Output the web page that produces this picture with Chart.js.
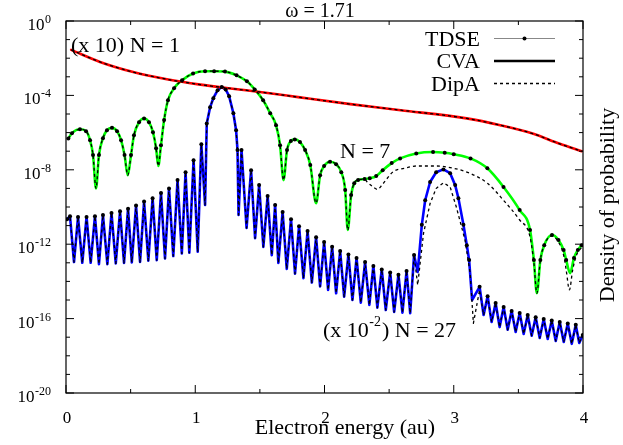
<!DOCTYPE html>
<html>
<head>
<meta charset="utf-8">
<title>Density of probability, omega = 1.71</title>
<script src="https://cdn.jsdelivr.net/npm/chart.js"></script>
<style>
  html, body { margin: 0; background: #fff; }
  canvas { display: block; }
</style>
</head>
<body>
<canvas id="spectrum" width="623" height="445"></canvas>
<script>
// tick labels
var xTickLabels = [0, 1, 2, 3, 4];
var yTickExponents = [0, -4, -8, -12, -16, -20];

// [electron energy (au), density]
// N = 1 (scaled x 10)
var n1Cva = [[0.04,2.8e-2],[0.263,6.3e-3],[0.52,1.8e-3],[0.78,7.4e-4],[1.04,3.8e-4],[1.29,2.3e-4],
  [1.56,1.35e-4],[1.81,7.8e-5],[2.2,3.4e-5],[2.59,1.6e-5],[3.10,5.8e-6],[3.36,2.5e-6],[3.61,8.9e-7],
  [3.82,2.5e-7],[3.99,1.0e-7]];

// N = 7
var n7Cva = [[0.018,4.8e-7],[0.046,9.3e-7],[0.108,1.5e-6],[0.155,1.2e-6],[0.186,3.9e-7],[0.209,6.2e-8],
  [0.232,1.0e-9],[0.255,6.2e-8],[0.286,5.0e-7],[0.317,1.35e-6],[0.356,1.8e-6],[0.395,1.2e-6],[0.426,3.9e-7],
  [0.453,6.2e-8],[0.478,5.1e-9],[0.503,6.2e-8],[0.526,7.2e-7],[0.565,3.6e-6],[0.604,5.7e-6],[0.642,3.6e-6],
  [0.673,1.05e-6],[0.697,1.45e-7],[0.714,1.6e-8],[0.735,2.1e-7],[0.759,4.7e-6],[0.789,5.5e-5],[0.836,2.4e-4],
  [0.898,6.6e-4],[0.983,1.5e-3],[1.076,2.0e-3],[1.146,2.0e-3],[1.23,1.9e-3],[1.32,1.2e-3],[1.40,5.7e-4],
  [1.46,2.1e-4],[1.525,5.5e-5],[1.58,1.1e-5],[1.625,2.5e-6],[1.656,2.1e-7],[1.683,2.8e-9],[1.71,1.15e-7],
  [1.74,3.5e-7],[1.77,4.3e-7],[1.81,3.1e-7],[1.85,1.15e-7],[1.89,1.8e-8],[1.935,1.6e-10],[1.966,5.1e-9],
  [1.997,1.6e-8],[2.043,2.7e-8],[2.09,2.0e-8],[2.13,7.4e-9],[2.16,8.1e-10],[2.18,5.8e-12],[2.206,4.4e-10],
  [2.23,1.9e-9],[2.26,2.8e-9],[2.31,3.2e-9],[2.35,3.5e-9],[2.40,4.6e-9],[2.45,9.5e-9],[2.52,2.3e-8],
  [2.585,4.1e-8],[2.71,7.6e-8],[2.84,9.1e-8],[2.93,8.3e-8],[3.0,6.9e-8],[3.13,4.1e-8],[3.26,1.2e-8],
  [3.385,1.2e-9],[3.51,6.8e-11],[3.59,5.8e-12],[3.62,1.4e-13],[3.643,2.3e-15],[3.67,1.4e-13],[3.70,8.9e-13],
  [3.76,3.1e-12],[3.81,1.7e-12],[3.85,4.9e-13],[3.87,1.4e-13],[3.90,2.8e-14],[3.93,1.8e-13],[3.96,4.9e-13],
  [3.99,8.9e-13]];
// where DipA leaves the N = 7 curve
var n7DipTail = [[2.33,2.2e-9],[2.37,1.3e-9],[2.41,8.9e-10],[2.45,1.7e-9],[2.53,7.8e-9],[2.62,1.2e-8],
  [2.71,1.6e-8],[2.87,1.6e-8],[3.0,1.2e-8],[3.13,6.3e-9],[3.26,1.9e-9],[3.385,2.3e-10],[3.51,2.0e-11],
  [3.59,2.5e-12],[3.62,1.0e-13],[3.643,2.3e-15],[3.67,1.4e-13],[3.70,8.9e-13],[3.76,2.8e-12],[3.81,1.3e-12],
  [3.85,2.6e-13],[3.87,4.1e-14],[3.895,3.5e-15],[3.92,4.1e-14],[3.95,2.6e-13],[3.99,7.0e-13]];

// N = 27 (scaled x 1e-2)
var n27Cva = [[0.008,2.2e-11],[0.031,3.2e-11],[0.062,1.1e-13],[0.093,2.9e-11],[0.126,1.0e-13],[0.159,2.9e-11],
  [0.191,1.0e-13],[0.224,3.2e-11],[0.255,8.5e-14],[0.286,3.7e-11],[0.320,8.5e-14],[0.352,4.7e-11],
  [0.385,9.3e-14],[0.418,6.0e-11],[0.449,9.8e-14],[0.480,8.1e-11],[0.509,1.05e-13],[0.542,1.2e-10],
  [0.573,1.1e-13],[0.604,1.95e-10],[0.637,1.3e-13],[0.670,3.0e-10],[0.702,1.4e-13],[0.735,5.6e-10],
  [0.766,1.7e-13],[0.797,1.0e-9],[0.830,2.3e-13],[0.863,2.8e-9],[0.896,3.2e-13],[0.925,7.4e-9],
  [0.954,3.5e-13],[0.987,3.3e-8],[1.019,3.9e-13],[1.047,2.4e-7],[1.076,1.3e-10],[1.089,3.1e-6],
  [1.115,2.3e-5],[1.140,7.1e-5],[1.173,1.9e-4],[1.205,2.8e-4],[1.235,2.1e-4],[1.262,9.1e-5],[1.295,1.1e-5],
  [1.316,1.35e-6],[1.327,1.15e-7],[1.335,3.7e-11],[1.358,1.15e-7],[1.397,7.4e-12],[1.432,9.5e-9],
  [1.463,2.1e-12],[1.494,1.5e-9],[1.527,7.1e-13],[1.560,3.9e-10],[1.592,2.6e-13],[1.618,1.3e-10],
  [1.643,9.8e-14],[1.676,5.4e-11],[1.708,4.7e-14],[1.741,2.2e-11],[1.772,2.6e-14],[1.803,9.3e-12],
  [1.837,1.5e-14],[1.869,5.1e-12],[1.902,8.7e-15],[1.935,2.4e-12],[1.966,5.4e-15],[1.997,1.3e-12],
  [2.028,3.5e-15],[2.059,7.4e-13],[2.090,2.3e-15],[2.121,4.3e-13],[2.152,1.5e-15],[2.185,2.8e-13],
  [2.216,1.0e-15],[2.248,1.8e-13],[2.281,7.2e-16],[2.314,1.1e-13],[2.347,5.4e-16],[2.378,6.8e-14],
  [2.409,3.9e-16],[2.443,4.4e-14],[2.474,2.9e-16],[2.508,3.0e-14],[2.539,2.3e-16],[2.572,2.3e-14],
  [2.603,2.1e-16],[2.635,3.6e-14],[2.663,1.95e-16],[2.693,2.6e-13],[2.721,3.2e-14],[2.753,1.1e-11],
  [2.779,2.3e-10],[2.817,2.2e-9],[2.864,7.4e-9],[2.920,1.05e-8],[2.972,6.6e-9],[3.011,1.5e-9],
  [3.036,3.0e-10],[3.075,1.1e-11],[3.101,8.9e-13],[3.119,1.4e-13],[3.142,1.0e-15],[3.2,5.1e-15],
  [3.231,1.55e-16],[3.262,1.6e-15],[3.293,6.6e-17],[3.324,6.9e-16],[3.355,3.5e-17],[3.386,4.2e-16],
  [3.417,2.5e-17],[3.448,2.6e-16],[3.479,1.9e-17],[3.510,2.0e-16],[3.541,1.5e-17],[3.572,1.55e-16],
  [3.603,1.2e-17],[3.634,1.2e-16],[3.665,9.1e-18],[3.696,9.5e-17],[3.727,8.1e-18],[3.758,7.9e-17],
  [3.789,6.3e-18],[3.820,6.6e-17],[3.851,5.5e-18],[3.882,5.5e-17],[3.913,4.4e-18],[3.944,4.6e-17],
  [3.971,4.9e-18],[3.998,1.3e-17]];
// where DipA leaves the N = 27 curve
var n27DipPeak = [[2.721,6.4e-15],[2.766,3.8e-12],[2.817,1.55e-10],[2.864,1.0e-9],[2.92,2.0e-9],
  [2.972,1.2e-9],[3.02,1.0e-10],[3.087,1.7e-12],[3.127,2.7e-14],[3.152,5.6e-17],[3.2,3.5e-15]];

function pts(arr) {
  return arr.map(function (p) { return {x: p[0], y: p[1]}; });
}
// CVA curve with the stretch where DipA differs swapped in
function spliced(base, patch) {
  var a = patch[0][0], b = patch[patch.length - 1][0];
  return base.filter(function (p) { return p[0] < a; })
    .concat(patch, base.filter(function (p) { return p[0] > b; }));
}
// TDSE dots sit on the lobes, not in the sharp zeros
function dotRadius(c) {
  var d = c.dataset.data, i = c.dataIndex;
  if (i > 0 && i < d.length - 1 && d[i].y < d[i - 1].y && d[i].y < d[i + 1].y) return 0;
  return 2;
}

var SERIF = '"Liberation Serif", "DejaVu Serif", serif';

function tdse(arr) {
  return {label: 'TDSE', data: pts(arr), showLine: false, pointRadius: dotRadius,
    pointBackgroundColor: '#000', pointBorderColor: '#000', pointBorderWidth: 0, order: 1};
}
function dipa(arr, smooth) {
  return {label: 'DipA', data: pts(arr), borderColor: '#000', borderWidth: 1.3, borderDash: [3, 3],
    borderJoinStyle: 'round', pointRadius: 0,
    cubicInterpolationMode: smooth ? 'monotone' : 'default', tension: 0, order: 2};
}
function cva(arr, color, smooth) {
  return {label: 'CVA', data: pts(arr), borderColor: color, borderWidth: 2.6,
    borderJoinStyle: 'round', borderCapStyle: 'round', pointRadius: 0,
    cubicInterpolationMode: smooth ? 'monotone' : 'default', tension: 0, order: 3};
}

var decorations = {
  id: 'decorations',
  afterDraw: function (chart) {
    var ctx = chart.ctx, a = chart.chartArea, xs = chart.scales.x, ys = chart.scales.y;
    ctx.save();
    ctx.strokeStyle = '#000';
    ctx.lineWidth = 1.2;
    ctx.strokeRect(a.left, a.top, a.right - a.left, a.bottom - a.top);

    // inward ticks on all four sides
    ctx.lineWidth = 1;
    ctx.beginPath();
    for (var k = 0; k <= 8; k++) {
      var px = xs.getPixelForValue(k / 2), len = k % 2 ? 4 : 8;
      ctx.moveTo(px, a.bottom); ctx.lineTo(px, a.bottom - len);
      ctx.moveTo(px, a.top); ctx.lineTo(px, a.top + len);
    }
    for (var e = 0; e >= -20; e--) {
      var py = ys.getPixelForValue(Math.pow(10, e)), l2 = e % 4 ? 4 : 8;
      ctx.moveTo(a.left, py); ctx.lineTo(a.left + l2, py);
      ctx.moveTo(a.right, py); ctx.lineTo(a.right - l2, py);
    }
    ctx.stroke();

    ctx.fillStyle = '#000';
    ctx.textBaseline = 'alphabetic';

    // x tick labels
    ctx.font = '17px ' + SERIF;
    ctx.textAlign = 'center';
    xTickLabels.forEach(function (v) {
      ctx.fillText(String(v), xs.getPixelForValue(v) + 1, 423);
    });

    // y tick labels 10^n
    yTickExponents.forEach(function (n) {
      var py = ys.getPixelForValue(Math.pow(10, n));
      var sup = n === 0 ? '0' : '-' + Math.abs(n);
      ctx.font = '12px ' + SERIF;
      ctx.textAlign = 'right';
      var sw = ctx.measureText(sup).width;
      ctx.fillText(sup, 51, py + 2);
      ctx.font = '17px ' + SERIF;
      ctx.fillText('10', 51 - sw - 0.5, py + 9);
    });

    // axis titles
    ctx.font = '22px ' + SERIF;
    ctx.textAlign = 'center';
    ctx.fillText('Electron energy (au)', 345, 434);
    ctx.save();
    ctx.translate(614, 205);
    ctx.rotate(-Math.PI / 2);
    ctx.fillText('Density of probability', 0, 0);
    ctx.restore();

    ctx.font = '20px ' + SERIF;
    ctx.fillText('\u03c9 = 1.71', 320, 17);

    // curve labels
    ctx.font = '22px ' + SERIF;
    ctx.textAlign = 'left';
    ctx.fillText('(x 10) N = 1', 71, 52);
    ctx.fillText('N = 7', 340, 158);
    var x0 = 323, w1;
    ctx.fillText('(x 10', x0, 337);
    w1 = ctx.measureText('(x 10').width;
    ctx.font = '14px ' + SERIF;
    ctx.fillText('-2', x0 + w1 + 0.5, 326);
    var w2 = ctx.measureText('-2').width;
    ctx.font = '22px ' + SERIF;
    ctx.fillText(') N = 27', x0 + w1 + w2 + 1.5, 337);

    // legend
    ctx.textAlign = 'right';
    ctx.fillText('TDSE', 480, 45.5);
    ctx.fillText('CVA', 480, 68);
    ctx.fillText('DipA', 480, 90.5);
    ctx.beginPath();
    ctx.strokeStyle = '#888';
    ctx.lineWidth = 1;
    ctx.moveTo(494, 38.5); ctx.lineTo(555, 38.5);
    ctx.stroke();
    ctx.beginPath();
    ctx.arc(524.5, 38.5, 2, 0, Math.PI * 2);
    ctx.fill();
    ctx.beginPath();
    ctx.strokeStyle = '#000';
    ctx.lineWidth = 2.6;
    ctx.moveTo(494, 61); ctx.lineTo(555, 61);
    ctx.stroke();
    ctx.beginPath();
    ctx.lineWidth = 1.3;
    ctx.setLineDash([3, 3]);
    ctx.moveTo(494, 83.5); ctx.lineTo(555, 83.5);
    ctx.stroke();
    ctx.restore();
  }
};

new Chart(document.getElementById('spectrum'), {
  type: 'line',
  data: {
    datasets: [
      tdse(n7Cva),
      tdse(n27Cva),
      dipa(n1Cva, true),
      dipa(spliced(n7Cva, n7DipTail), true),
      dipa(spliced(n27Cva, n27DipPeak), false),
      cva(n1Cva, '#ff0000', true),
      cva(n7Cva, '#00ff00', true),
      cva(n27Cva, '#0000ff', false)
    ]
  },
  options: {
    responsive: false,
    animation: false,
    devicePixelRatio: 1,
    layout: {padding: {left: 66, right: 40, top: 21, bottom: 52}},
    plugins: {legend: {display: false}, tooltip: {enabled: false}},
    scales: {
      x: {type: 'linear', min: 0, max: 4, display: false},
      y: {type: 'logarithmic', min: 1e-20, max: 1, display: false}
    }
  },
  plugins: [decorations]
});
</script>
</body>
</html>
